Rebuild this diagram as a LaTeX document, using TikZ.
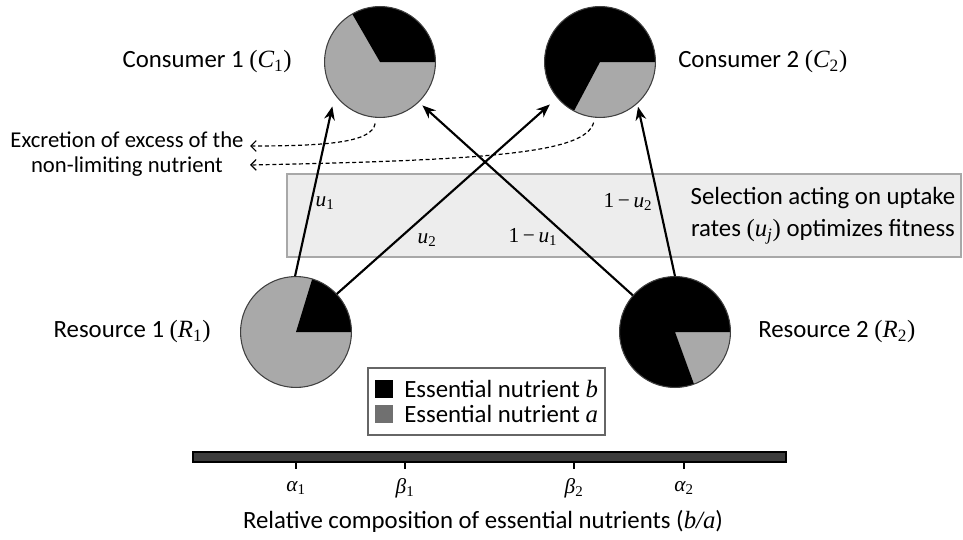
\documentclass[tikz,border=0pt]{standalone}
\usepackage{fontspec}
\setmainfont{Carlito}
\newfontfamily\mf{Liberation Serif}
\usetikzlibrary{arrows.meta}
\definecolor{pgray}{HTML}{A9A9A9}
\definecolor{lgray}{HTML}{707070}
\definecolor{bandfill}{HTML}{EDEDED}
\definecolor{bandedge}{HTML}{A8A8A8}
\definecolor{bardark}{HTML}{3C3C3C}
\newcommand\mv[2]{{\mf\itshape #1}\textsubscript{\mf #2}}
\newcommand\piechart[3]{%
  \fill[pgray] (#1.center) circle[radius=41.6pt];
  \fill[black] (#1.center) -- ++(#2:41.6pt) arc[start angle=#2,end angle=#3,radius=41.6pt] -- cycle;
  \draw[line width=0.8pt, black!75] (#1.center) circle[radius=41.6pt];}
\begin{document}
\begin{tikzpicture}[x=0.75pt,y=-0.75pt,
  piebox/.style={circle, minimum size=83.2pt, inner sep=0pt},
  lbl/.style={font=\fontsize{18.6}{22}\selectfont, inner sep=0pt},
  mlbl/.style={font=\fontsize{16}{19}\selectfont\mf, inner sep=0pt},
  flow/.style={line width=1.6pt, -{Stealth[length=10pt,width=8pt]}},
  excr/.style={line width=0.9pt, dash pattern=on 3pt off 2pt, -{Straight Barb[length=4pt,width=8pt]}},
]
\useasboundingbox (0,0) rectangle (963,539);
% selection band
\draw[draw=bandedge, fill=bandfill, line width=2pt] (287,174) rectangle (961,257);
\node[lbl, align=center, font=\fontsize{18.6}{24}\selectfont] (sel) at (823,216)
  {Selection acting on uptake\\rates {\mf(}\mv{u}{\itshape j}{\mf)} optimizes fitness};
% pies
\node[piebox] (C1) at (380,62) {};
\node[piebox] (C2) at (600,62) {};
\node[piebox] (R1) at (296,332) {};
\node[piebox] (R2) at (675,332) {};
\piechart{C1}{0}{120}
\piechart{C2}{0}{242}
\piechart{R1}{0}{73}
\piechart{R2}{0}{290}
% labels
\node[lbl, anchor=east] (c1t) at (292,62) {Consumer 1 {\mf(}\mv{C}{1}{\mf)}};
\node[lbl, anchor=west] (c2t) at (678,62) {Consumer 2 {\mf(}\mv{C}{2}{\mf)}};
\node[lbl, anchor=east] (r1t) at (211,332) {Resource 1 {\mf(}\mv{R}{1}{\mf)}};
\node[lbl, anchor=west] (r2t) at (758,332) {Resource 2 {\mf(}\mv{R}{2}{\mf)}};
\node[lbl, align=center, font=\fontsize{17}{19}\selectfont] (exc) at (127,154)
  {Excretion of excess of the\\non-limiting nutrient};
% flows
\draw[flow, shorten >=9pt] (R1.91) -- (C1.216);
\draw[flow, shorten >=7.5pt] (R1.43) -- (C2.220.6);
\draw[flow, shorten >=3.75pt] (R2.139) -- (C1.314);
\draw[flow, shorten >=2.6pt] (R2.90) -- (C2.312);
\node[mlbl] (lu1) at (325,203) {\mv{u}{1}};
\node[mlbl] (lu2) at (427,240) {\mv{u}{2}};
\node[mlbl] (lu1b) at (533,237) {1\,−\,\mv{u}{1}};
\node[mlbl] (lu2b) at (628,202) {1\,−\,\mv{u}{2}};
% excretion
\coordinate (x1) at (250,146);
\coordinate (x2) at (250,165);
\draw[excr, shorten <=4.5pt] (C1.266) .. controls (372,142) and (330,146) .. (x1);
\draw[excr, shorten <=4pt] (C2.265) .. controls (585,152) and (500,160) .. (x2);
% legend
\node[draw=black!60, line width=1pt, minimum width=177.75pt, minimum height=50.25pt, inner sep=0pt] (leg) at (486.5,401.5) {};
\fill[black] (375,380) rectangle (393,398);
\fill[lgray] (375,405) rectangle (393,423);
\node[lbl, anchor=west] (lb) at (404,389) {Essential nutrient {\mf\itshape b}};
\node[lbl, anchor=west] (la) at (404,414) {Essential nutrient {\mf\itshape a}};
% axis bar
\draw[fill=bardark, line width=1pt] (193,452) rectangle (786,462);
\foreach \xx in {296,405,574,684} \draw[line width=1.8pt] (\xx,462) -- (\xx,469);
\node[mlbl] (a1) at (296,488) {{\itshape α}\textsubscript{1}};
\node[mlbl] (b1) at (405,488) {{\itshape β}\textsubscript{1}};
\node[mlbl] (b2) at (574,488) {{\itshape β}\textsubscript{2}};
\node[mlbl] (a2) at (684,488) {{\itshape α}\textsubscript{2}};
\node[lbl] (axt) at (483,521) {Relative composition of essential nutrients ({\mf\itshape b/a})};
\end{tikzpicture}
\end{document}
